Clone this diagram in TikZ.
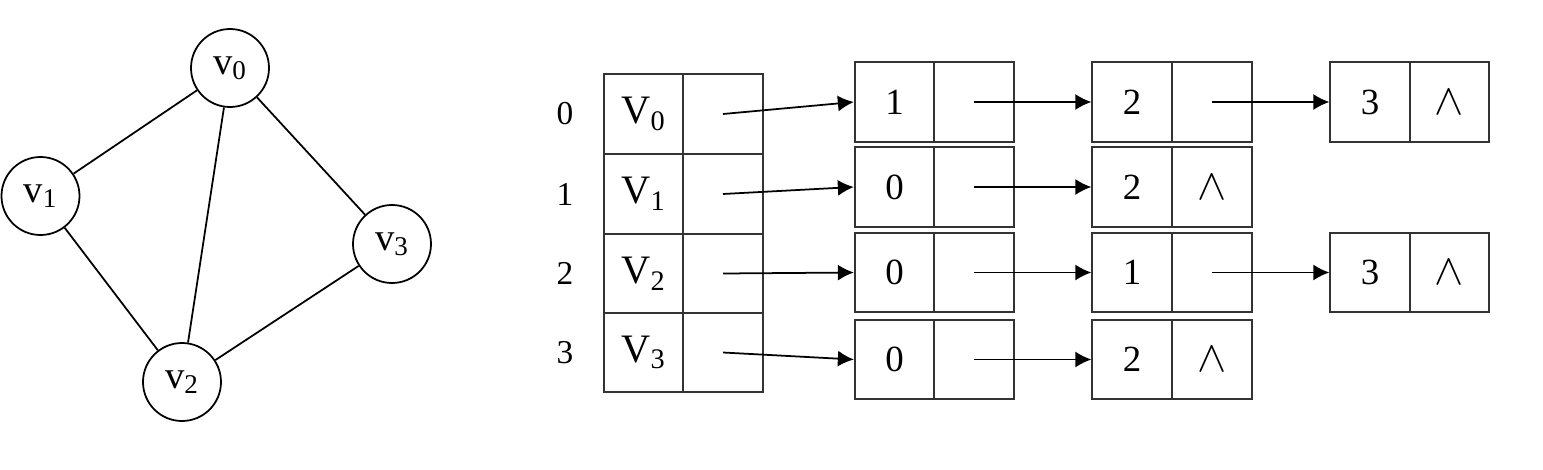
\documentclass[tikz,border=0pt]{standalone}
\usepackage{fontspec}
\setmainfont{Liberation Serif}
\usetikzlibrary{arrows.meta}

\begin{document}
\begin{tikzpicture}[
        >={Latex[length=0.32cm, width=0.32cm]},
        line width=1pt,
        vtx/.style={draw, circle, minimum size=1.56cm, inner sep=0pt, font=\fontsize{22}{25}\selectfont},
        cell/.style={draw, black!80, text=black, minimum width=1.59cm, minimum height=1.59cm, inner sep=0pt, font=\fontsize{21}{24}\selectfont},
        head/.style={cell, font=\fontsize{23}{26}\selectfont},
        idx/.style={font=\fontsize{19}{22}\selectfont},
        nil/.style={cell, font=\fontsize{32}{34}\selectfont}]

    \useasboundingbox (0,0) rectangle (30.86,-9.38);

    % ---------- the undirected graph ----------
    \node[vtx] (v0) at (4.60,-1.36) {v\textsubscript{0}};
    \node[vtx] (v1) at (0.81,-3.92) {v\textsubscript{1}};
    \node[vtx] (v2) at (3.64,-7.64) {v\textsubscript{2}};
    \node[vtx] (v3) at (7.84,-4.88) {v\textsubscript{3}};

    \draw (v0) -- (v1);
    \draw (v0) -- (v2);
    \draw (v0) -- (v3);
    \draw (v1) -- (v2);
    \draw (v2) -- (v3);

    % ---------- vertex table ----------
    \node[idx] (i0) at (11.30,-2.28) {0};
    \node[idx] (i1) at (11.30,-3.88) {1};
    \node[idx] (i2) at (11.30,-5.47) {2};
    \node[idx] (i3) at (11.30,-7.05) {3};

    \node[head] (h0d) at (12.87,-2.28) {V\textsubscript{0}};
    \node[cell] (h0p) at (14.46,-2.28) {};
    \node[head] (h1d) at (12.87,-3.88) {V\textsubscript{1}};
    \node[cell] (h1p) at (14.46,-3.88) {};
    \node[head] (h2d) at (12.87,-5.47) {V\textsubscript{2}};
    \node[cell] (h2p) at (14.46,-5.47) {};
    \node[head] (h3d) at (12.87,-7.05) {V\textsubscript{3}};
    \node[cell] (h3p) at (14.46,-7.05) {};

    % ---------- edge lists ----------
    \node[cell] (a1d) at (17.89,-2.04) {1};
    \node[cell] (a1p) at (19.48,-2.04) {};
    \node[cell] (a2d) at (22.64,-2.04) {2};
    \node[cell] (a2p) at (24.24,-2.04) {};
    \node[cell] (a3d) at (27.40,-2.04) {3};
    \node[nil] (a3p) at (28.99,-2.04) {$\wedge$};

    \node[cell] (b1d) at (17.89,-3.74) {0};
    \node[cell] (b1p) at (19.48,-3.74) {};
    \node[cell] (b2d) at (22.64,-3.74) {2};
    \node[nil] (b2p) at (24.24,-3.74) {$\wedge$};

    \node[cell] (c1d) at (17.89,-5.45) {0};
    \node[cell] (c1p) at (19.48,-5.45) {};
    \node[cell] (c2d) at (22.64,-5.45) {1};
    \node[cell] (c2p) at (24.24,-5.45) {};
    \node[cell] (c3d) at (27.40,-5.45) {3};
    \node[nil] (c3p) at (28.99,-5.45) {$\wedge$};

    \node[cell] (d1d) at (17.89,-7.19) {0};
    \node[cell] (d1p) at (19.48,-7.19) {};
    \node[cell] (d2d) at (22.64,-7.19) {2};
    \node[nil] (d2p) at (24.24,-7.19) {$\wedge$};

    \draw[->] (h0p.center) -- (a1d.west);
    \draw[->] (h1p.center) -- (b1d.west);
    \draw[->] (h2p.center) -- (c1d.west);
    \draw[->] (h3p.center) -- (d1d.west);

    \draw[->] (a1p.center) -- (a2d.west);
    \draw[->] (a2p.center) -- (a3d.west);
    \draw[->] (b1p.center) -- (b2d.west);
    \draw[->] (c1p.center) -- (c2d.west);
    \draw[->] (c2p.center) -- (c3d.west);
    \draw[->] (d1p.center) -- (d2d.west);
\end{tikzpicture}
\end{document}
